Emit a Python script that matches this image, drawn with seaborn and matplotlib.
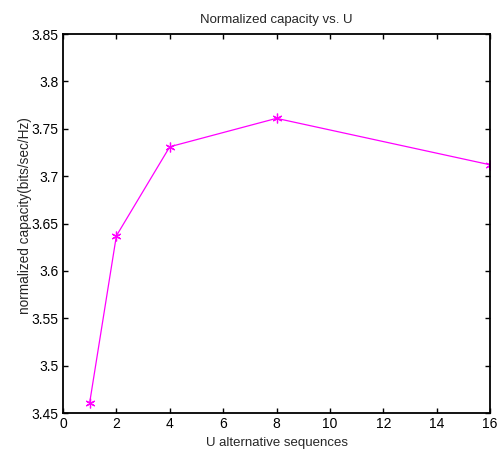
import pandas as pd
import seaborn as sns
import matplotlib.pyplot as plt

# 読み取った値
u_values = [1, 2, 4, 8, 16]
capacity = [3.461, 3.637, 3.731, 3.761, 3.712]
x_ticks = [0, 2, 4, 6, 8, 10, 12, 14, 16]
y_ticks = [3.45, 3.5, 3.55, 3.6, 3.65, 3.7, 3.75, 3.8, 3.85]
y_tick_labels = ["3.45", "3.5", "3.55", "3.6", "3.65", "3.7", "3.75", "3.8", "3.85"]

df = pd.DataFrame({"U": u_values, "capacity": capacity})

sns.set_style("ticks")
plt.rcParams["font.family"] = ["Liberation Sans", "DejaVu Sans"]

fig = plt.figure(figsize=(4.98, 4.5), dpi=100)
ax = fig.add_axes([0.1265, 0.0822, 0.8575, 0.8422])

sns.lineplot(data=df, x="U", y="capacity", ax=ax, color="#ff00ff",
             marker=(6, 2, 0), markersize=7, markeredgecolor="#ff00ff",
             markeredgewidth=0.9, linewidth=0.9)

ax.set_xlim(0, 16)
ax.set_ylim(3.45, 3.85)
ax.set_xticks(x_ticks)
ax.set_yticks(y_ticks)
ax.set_yticklabels(y_tick_labels)
ax.tick_params(direction="in", top=True, right=True, length=3.6, width=1.0,
               labelsize=10, colors="black", pad=3)
for s in ax.spines.values():
    s.set_linewidth(1.3)
    s.set_color("black")

ax.set_title("Normalized capacity vs. U", fontsize=9.5, pad=8)
ax.set_xlabel("U alternative sequences", fontsize=9.5, labelpad=4)
ax.set_ylabel("normalized capacity(bits/sec/Hz)", fontsize=9.8)
ax.yaxis.set_label_coords(-0.072, 0.522)

plt.savefig("out.png", dpi=100)
